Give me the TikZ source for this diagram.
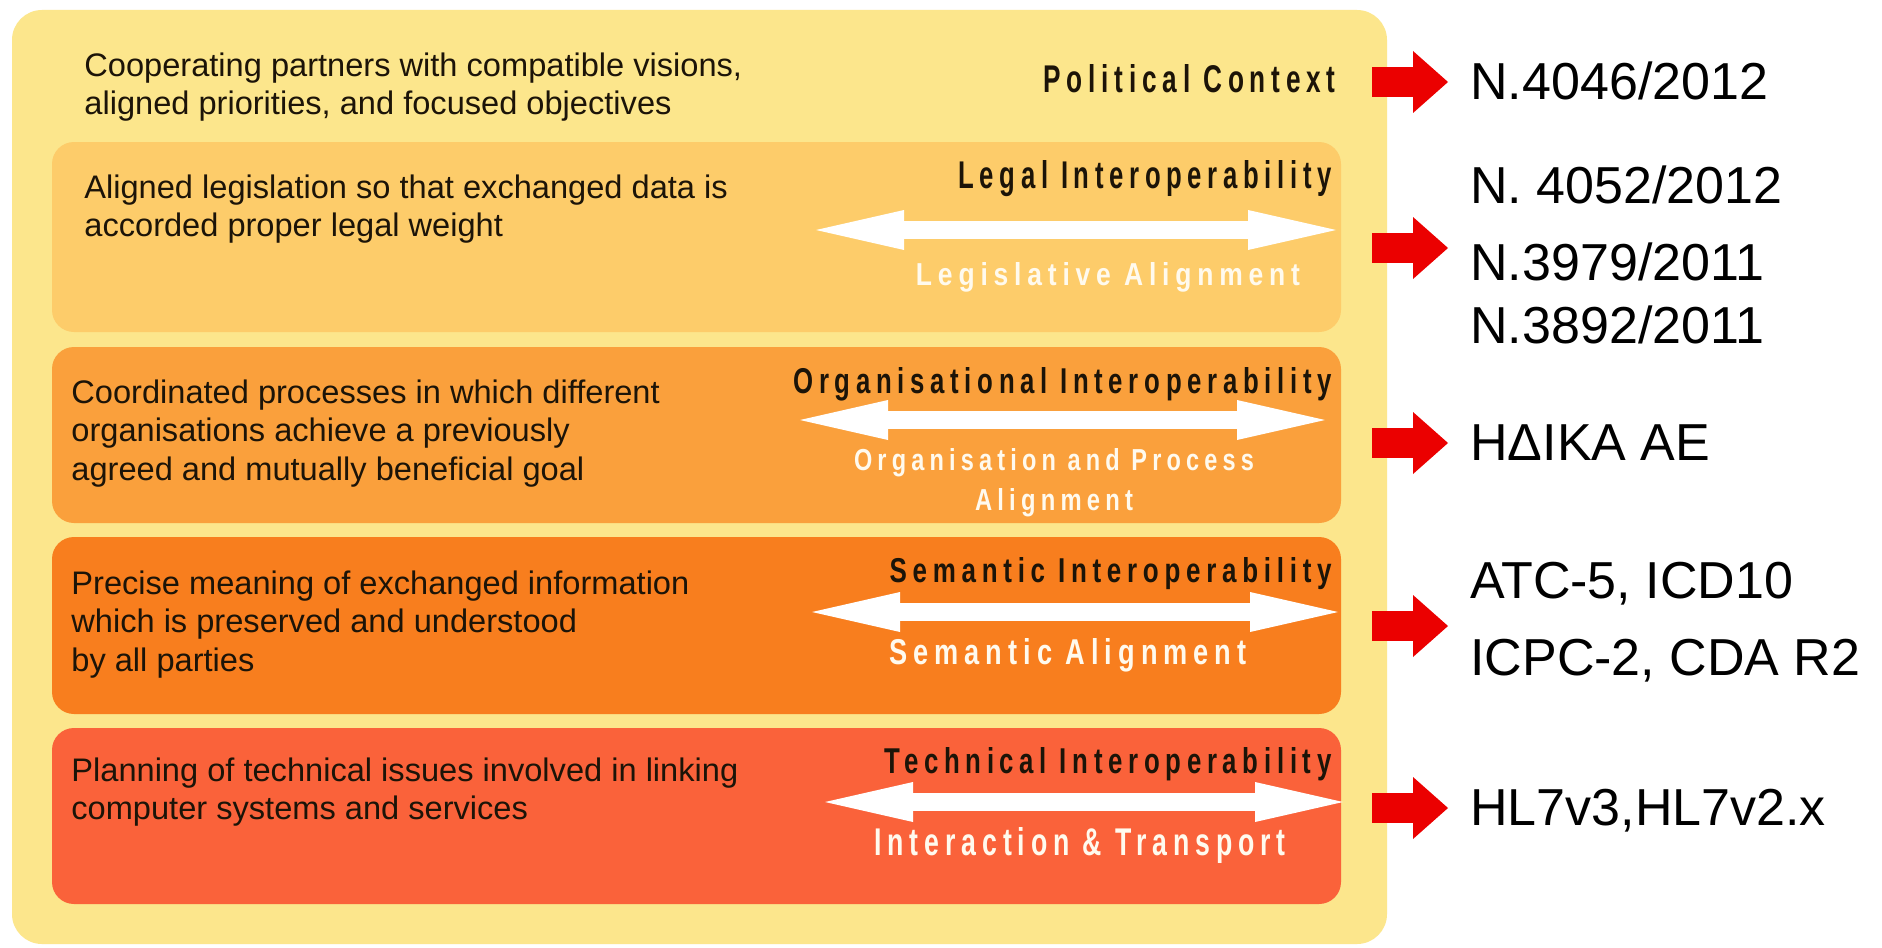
\documentclass[tikz,border=0pt]{standalone}
\usepackage{graphicx}
\usepackage{fontspec}
\setmainfont{Liberation Sans}
\newfontfamily\condfont[LetterSpace=22]{Liberation Sans}
\usetikzlibrary{arrows.meta}
\definecolor{outerc}{RGB}{252,230,140}
\definecolor{legalc}{RGB}{253,204,106}
\definecolor{orgc}{RGB}{250,160,60}
\definecolor{semc}{RGB}{248,126,30}
\definecolor{techc}{RGB}{250,98,58}
\definecolor{arrowred}{RGB}{235,0,0}
\definecolor{inkc}{RGB}{28,20,8}
\definecolor{paleink}{RGB}{255,250,238}
\newcommand\condlbl[3]{\resizebox{#1}{#2}{\condfont\bfseries #3}}
\begin{document}
\begin{tikzpicture}[x=0.5pt,y=-0.5pt,
  desc/.style={anchor=north west, inner sep=0pt, align=left, text=inkc, font=\fontsize{16.3pt}{19.25pt}\selectfont},
  title/.style={anchor=base east, inner sep=0pt, text=inkc},
  sublbl/.style={anchor=base, inner sep=0pt, text=paleink},
  reflbl/.style={anchor=base west, inner sep=0pt, text=black, font=\fontsize{26pt}{31pt}\selectfont},
  redarrow/.style={draw=arrowred, line width=15pt, -{Triangle[length=17.5pt,width=31pt,line width=0pt]}, shorten >=11pt},
  dblarrow/.style={draw=white, line width=9pt, {Triangle[length=44pt,width=20pt,line width=0pt]}-{Triangle[length=44pt,width=20pt,line width=0pt]}},
  layer/.style={rounded corners=11pt}
]
\useasboundingbox (0,0) rectangle (1882,947);
\fill[white] (0,0) rectangle (1882,947);
% outer political layer
\fill[outerc, rounded corners=15pt] (12,10) rectangle (1387,944);
% bands
\fill[legalc, layer] (52,142) rectangle (1341,332);
\fill[orgc, layer] (52,347) rectangle (1341,523);
\fill[semc, layer] (52,537) rectangle (1341,714);
\fill[techc, layer] (52,728) rectangle (1341,904);

% white double arrows
\coordinate (wa1) at (816,230);  \coordinate (wb1) at (1336,230);
\coordinate (wa2) at (800,420);  \coordinate (wb2) at (1325,420);
\coordinate (wa3) at (812,612);  \coordinate (wb3) at (1338,612);
\coordinate (wa4) at (825,802);  \coordinate (wb4) at (1343,802);
\draw[dblarrow] (wa1) -- (wb1);
\draw[dblarrow] (wa2) -- (wb2);
\draw[dblarrow] (wa3) -- (wb3);
\draw[dblarrow] (wa4) -- (wb4);

% descriptions
\node[desc] (dpol) at (84,52) {Cooperating partners with compatible visions,\\aligned priorities, and focused objectives};
\node[desc] (dleg) at (84,174) {Aligned legislation so that exchanged data is\\accorded proper legal weight};
\node[desc] (dorg) at (71,379) {Coordinated processes in which different\\organisations achieve a previously\\agreed and mutually beneficial goal};
\node[desc] (dsem) at (71,570) {Precise meaning of exchanged information\\which is preserved and understood\\by all parties};
\node[desc] (dtec) at (71,757) {Planning of technical issues involved in linking\\computer systems and services};

% titles
\node[title] (tpol) at (1336,93) {\condlbl{146pt}{14pt}{Political Context}};
\node[title] (tleg) at (1332,188) {\condlbl{186.5pt}{14pt}{Legal Interoperability}};
\node[title] (torg) at (1332,393) {\condlbl{269pt}{13pt}{Organisational Interoperability}};
\node[title] (tsem) at (1332,582) {\condlbl{221pt}{12.5pt}{Semantic Interoperability}};
\node[title] (ttec) at (1332,773) {\condlbl{223.5pt}{13pt}{Technical Interoperability}};

% alignment labels
\node[sublbl] (sleg) at (1108,285) {\condlbl{192pt}{11.5pt}{Legislative Alignment}};
\node[sublbl] (sorg1) at (1054,470) {\condlbl{200pt}{11pt}{Organisation and Process}};
\node[sublbl] (sorg2) at (1054,510) {\condlbl{79pt}{11pt}{Alignment}};
\node[sublbl] (ssem) at (1068,664) {\condlbl{178.5pt}{13pt}{Semantic Alignment}};
\node[sublbl] (stec) at (1080,855) {\condlbl{205.5pt}{14pt}{Interaction \& Transport}};

% reference labels
\node[reflbl] (r1) at (1470,99) {N.4046/2012};
\node[reflbl] (r2) at (1470,203) {N. 4052/2012};
\node[reflbl] (r3) at (1470,280) {N.3979/2011};
\node[reflbl] (r4) at (1470,343) {N.3892/2011};
\node[reflbl] (r5) at (1470,460) {ΗΔΙΚΑ ΑΕ};
\node[reflbl] (r6) at (1470,598) {ATC-5, ICD10};
\node[reflbl] (r7) at (1470,675) {ICPC-2, CDA R2};
\node[reflbl] (r8) at (1470,825) {HL7v3,HL7v2.x};

% red arrows
\coordinate (ra1) at (1372,82);
\coordinate (ra2) at (1372,248);
\coordinate (ra3) at (1372,443);
\coordinate (ra4) at (1372,626);
\coordinate (ra5) at (1372,808);
\draw[redarrow] (ra1) -- (ra1 -| r1.west);
\draw[redarrow] (ra2) -- (ra2 -| r3.west);
\draw[redarrow] (ra3) -- (ra3 -| r5.west);
\draw[redarrow] (ra4) -- (ra4 -| r6.west);
\draw[redarrow] (ra5) -- (ra5 -| r8.west);
\end{tikzpicture}
\end{document}
